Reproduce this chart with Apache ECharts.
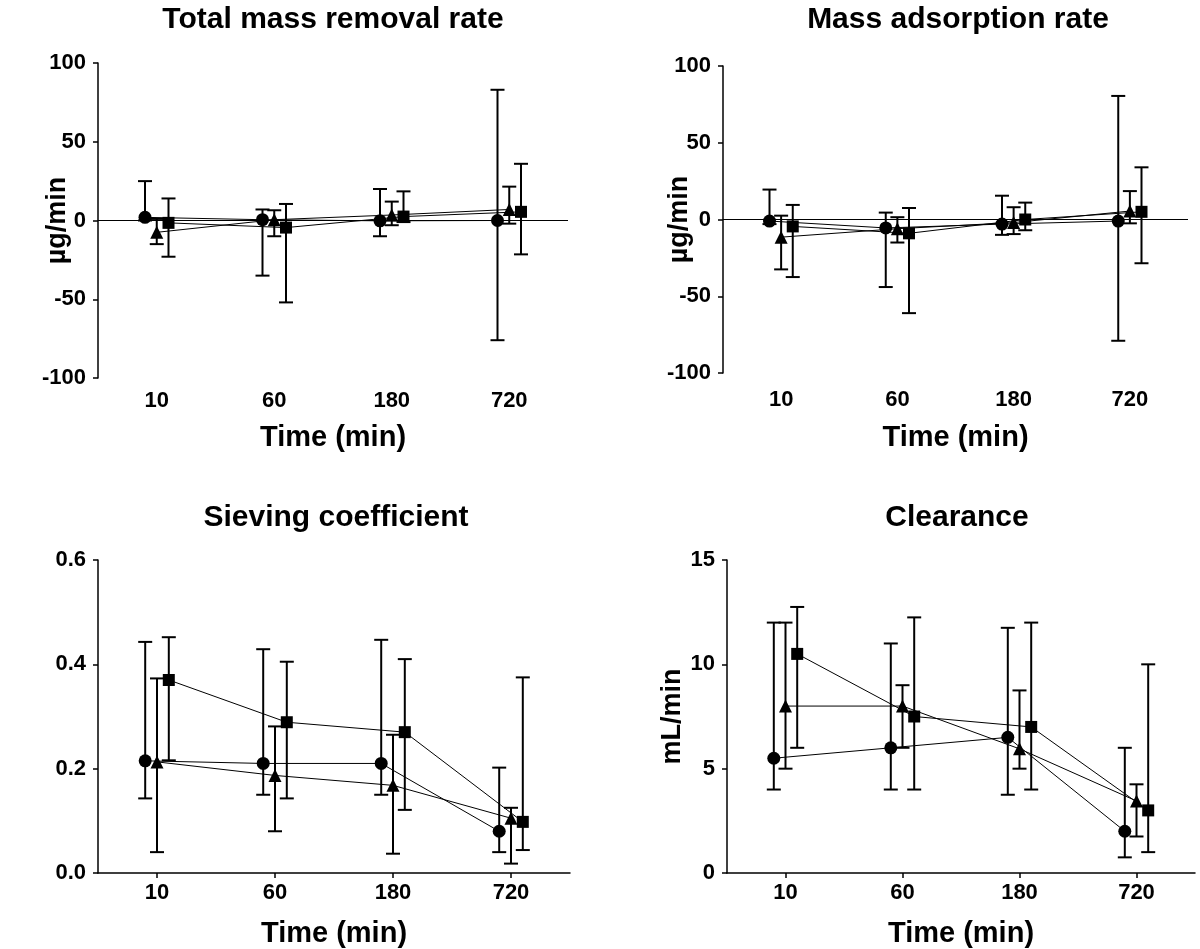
<!DOCTYPE html>
<html>
<head>
<meta charset="utf-8">
<script src="https://cdn.jsdelivr.net/npm/echarts@6/dist/echarts.min.js"></script>
<style>
html,body{margin:0;padding:0;background:#fff;}
#chart{width:1200px;height:949px;}
</style>
</head>
<body>
<div id="chart"></div>
<script>
// ---------- DATA ----------
var categories = ['10', '60', '180', '720'];

// Total mass removal rate (µg/min)
var tmrCircle   = [2, 0.5, -0.2, 0];
var tmrCircleLo = [0, -35, -10, -76];
var tmrCircleHi = [25, 7, 20, 83];
var tmrTri      = [-7.5, 0.5, 3.5, 7];
var tmrTriLo    = [-15, -10, -3, -2];
var tmrTriHi    = [1, 6.5, 12, 21.5];
var tmrSq       = [-1.5, -4.5, 2.5, 5.5];
var tmrSqLo     = [-23, -52, -1, -21.5];
var tmrSqHi     = [14, 10.5, 18.5, 36];

// Mass adsorption rate (µg/min)
var marCircle   = [-1, -5.5, -3, -1];
var marCircleLo = [-3, -44, -10, -79];
var marCircleHi = [19.5, 4.5, 15.5, 80.5];
var marTri      = [-11.5, -6, -2, 5.5];
var marTriLo    = [-32.5, -15, -9.5, -2.5];
var marTriHi    = [2.5, 1.5, 8, 18.5];
var marSq       = [-4.5, -9, 0, 5];
var marSqLo     = [-37.5, -61, -7, -28.5];
var marSqHi     = [9.5, 7.5, 11, 34];

// Sieving coefficient
var scCircle   = [0.215, 0.21, 0.21, 0.08];
var scCircleLo = [0.143, 0.15, 0.15, 0.04];
var scCircleHi = [0.443, 0.429, 0.447, 0.202];
var scTri      = [0.213, 0.187, 0.168, 0.105];
var scTriLo    = [0.04, 0.08, 0.037, 0.018];
var scTriHi    = [0.373, 0.281, 0.265, 0.125];
var scSq       = [0.37, 0.289, 0.27, 0.098];
var scSqLo     = [0.216, 0.143, 0.121, 0.044];
var scSqHi     = [0.452, 0.405, 0.41, 0.375];

// Clearance (mL/min)
var clCircle   = [5.5, 6.0, 6.5, 2.0];
var clCircleLo = [4.0, 4.0, 3.75, 0.75];
var clCircleHi = [12.0, 11.0, 11.75, 6.0];
var clTri      = [8.0, 8.0, 5.95, 3.45];
var clTriLo    = [5.0, 6.0, 5.0, 1.75];
var clTriHi    = [12.0, 9.0, 8.75, 4.25];
var clSq       = [10.5, 7.5, 7.0, 3.0];
var clSqLo     = [6.0, 4.0, 4.0, 1.0];
var clSqHi     = [12.75, 12.25, 12.0, 10.0];

// ---------- LAYOUT ----------
var FONT = '"Liberation Sans", Arial, Helvetica, sans-serif';
var DODGE = [-0.1, 0, 0.1];
var SYMBOLS = ['circle', 'triangle', 'rect'];
var SYMSIZE = [13, 13, 12];

var panels = [
  { title: 'Total mass removal rate', titleX: 328, titleY: 0, grid: {left: 98, top: 63, width: 470, height: 315},
    yName: 'µg/min', yGap: 27, lblMargin: 12, xGap: 45,
    min: -100, max: 100, interval: 50, zeroLine: true, dec: 0,
    groups: [[tmrCircle, tmrCircleLo, tmrCircleHi], [tmrTri, tmrTriLo, tmrTriHi], [tmrSq, tmrSqLo, tmrSqHi]] },
  { title: 'Mass adsorption rate', titleX: 953, titleY: 0, grid: {left: 723, top: 66, width: 465, height: 307},
    yName: 'µg/min', yGap: 30, lblMargin: 16, xGap: 50,
    min: -100, max: 100, interval: 50, zeroLine: true, dec: 0,
    groups: [[marCircle, marCircleLo, marCircleHi], [marTri, marTriLo, marTriHi], [marSq, marSqLo, marSqHi]] },
  { title: 'Sieving coefficient', titleX: 331, titleY: 498, grid: {left: 98, top: 560, width: 472, height: 314},
    yName: '', yGap: 30, lblMargin: 9, xGap: 46,
    min: 0, max: 0.6, interval: 0.2, zeroLine: false, dec: 1,
    groups: [[scCircle, scCircleLo, scCircleHi], [scTri, scTriLo, scTriHi], [scSq, scSqLo, scSqHi]] },
  { title: 'Clearance', titleX: 952, titleY: 498, grid: {left: 727, top: 560, width: 468, height: 314},
    yName: 'mL/min', yGap: 41, lblMargin: 9, xGap: 46,
    min: 0, max: 15, interval: 5, zeroLine: false, dec: 0,
    groups: [[clCircle, clCircleLo, clCircleHi], [clTri, clTriLo, clTriHi], [clSq, clSqLo, clSqHi]] }
];

function errRender(params, api) {
  var x = api.value(0), lo = api.value(1), hi = api.value(2);
  var p1 = api.coord([x, hi]), p2 = api.coord([x, lo]);
  var hw = 7;
  var st = {stroke: '#000', lineWidth: 2};
  return {type: 'group', children: [
    {type: 'line', shape: {x1: p1[0], y1: p1[1], x2: p2[0], y2: p2[1]}, style: st},
    {type: 'line', shape: {x1: p1[0] - hw, y1: p1[1], x2: p1[0] + hw, y2: p1[1]}, style: st},
    {type: 'line', shape: {x1: p2[0] - hw, y1: p2[1], x2: p2[0] + hw, y2: p2[1]}, style: st}
  ]};
}

var option = {
  animation: false,
  backgroundColor: '#fff',
  title: [], grid: [], xAxis: [], yAxis: [], series: []
};

panels.forEach(function (p, k) {
  var g = p.grid;
  option.title.push({
    text: p.title, left: p.titleX, top: p.titleY, textAlign: 'center',
    textStyle: {fontFamily: FONT, fontWeight: 'bold', fontSize: 30, color: '#000'}
  });
  option.grid.push({left: g.left, top: g.top, width: g.width, height: g.height, containLabel: false});
  var isTop = p.zeroLine;
  option.xAxis.push({
    type: 'category', gridIndex: k, data: categories, boundaryGap: true, position: 'bottom',
    name: 'Time (min)', nameLocation: 'middle', nameGap: p.xGap, nameMoveOverlap: false,
    nameTextStyle: {fontFamily: FONT, fontWeight: 'bold', fontSize: 29, color: '#000'},
    axisLine: {show: !isTop, onZero: false, lineStyle: {color: '#000', width: 1.5}},
    axisTick: {show: !isTop, alignWithLabel: true, length: 5, lineStyle: {color: '#000', width: 1.5}},
    axisLabel: {fontFamily: FONT, fontWeight: 'bold', fontSize: 22, color: '#000', margin: p.lblMargin},
    splitLine: {show: false}
  });
  option.xAxis.push({type: 'value', gridIndex: k, min: 0, max: categories.length, show: false});
  option.yAxis.push({
    type: 'value', gridIndex: k, min: p.min, max: p.max, interval: p.interval,
    name: p.yName, nameLocation: 'middle', nameGap: p.yGap, nameRotate: 90, nameMoveOverlap: false,
    nameTextStyle: {fontFamily: FONT, fontWeight: 'bold', fontSize: 27, color: '#000'},
    axisLine: {show: true, lineStyle: {color: '#000', width: 1.5}},
    axisTick: {show: true, inside: false, length: 5, lineStyle: {color: '#000', width: 1.5}},
    axisLabel: {fontFamily: FONT, fontWeight: 'bold', fontSize: 22, color: '#000', margin: 12,
      formatter: (function (d) { return function (v) { return v.toFixed(d); }; })(p.dec)},
    splitLine: {show: false}
  });
  var xi = 2 * k + 1;
  p.groups.forEach(function (gr, gi) {
    var mean = gr[0], lo = gr[1], hi = gr[2];
    var pts = mean.map(function (v, i) { return [i + 0.5 + DODGE[gi], v]; });
    var errs = mean.map(function (v, i) { return [i + 0.5 + DODGE[gi], lo[i], hi[i]]; });
    var line = {
      type: 'line', xAxisIndex: xi, yAxisIndex: k, data: pts,
      symbol: SYMBOLS[gi], symbolSize: SYMSIZE[gi], showSymbol: true,
      lineStyle: {color: '#000', width: 1}, itemStyle: {color: '#000'}, z: 3
    };
    if (p.zeroLine && gi === 0) {
      line.markLine = {
        silent: true, symbol: ['none', 'none'], label: {show: false},
        lineStyle: {color: '#000', width: 1, type: 'solid'},
        data: [{yAxis: 0}]
      };
    }
    option.series.push({
      type: 'custom', xAxisIndex: xi, yAxisIndex: k, data: errs,
      renderItem: errRender, encode: {x: 0, y: [1, 2]}, z: 2
    });
    option.series.push(line);
  });
});

var chart = echarts.init(document.getElementById('chart'), null, {renderer: 'canvas'});
chart.setOption(option);
</script>
</body>
</html>
